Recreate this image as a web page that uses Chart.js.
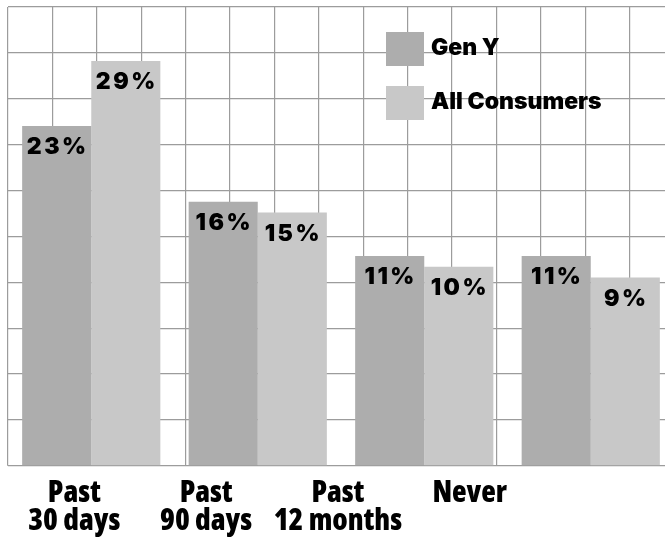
<!DOCTYPE html>
<html>
<head>
<meta charset="utf-8">
<script src="https://cdn.jsdelivr.net/npm/chart.js@4.4.1/dist/chart.umd.min.js"></script>
<style>
  html, body { margin: 0; padding: 0; overflow: hidden; background: #fff; }
  #wrap { position: relative; width: 680px; height: 549px; }
</style>
</head>
<body>
<div id="wrap"><canvas id="c"></canvas></div>
<script>
// Survey periods and the share of each group for each period (percent)
const CATEGORIES = [['Past', '30 days'], ['Past', '90 days'], ['Past', '12 months'], ['Never']];
const SERIES_NAMES = ['Gen Y', 'All Consumers'];
const GEN_Y = [23, 16, 11, 11];
const ALL_CONSUMERS = [29, 15, 10, 9];

const COLORS = ['#adadad', '#c8c8c8'];
const GRID = '#9c9c9c';
const Y_MIN = -8.4, Y_MAX = 34;
const HEAVY_FONT = "Inter, 'DejaVu Sans', sans-serif";

// Percent figures written just inside the top of each bar
const valueLabels = {
  id: 'valueLabels',
  afterDatasetsDraw(chart) {
    const ctx = chart.ctx;
    ctx.save();
    ctx.fillStyle = '#000';
    ctx.font = '900 23px ' + HEAVY_FONT;
    ctx.textAlign = 'center';
    ctx.textBaseline = 'alphabetic';
    if ('letterSpacing' in ctx) ctx.letterSpacing = '2.5px';
    chart.data.datasets.forEach((ds, i) => {
      chart.getDatasetMeta(i).data.forEach((bar, j) => {
        ctx.fillText(ds.data[j] + '%', bar.x + 1, bar.y + 28);
      });
    });
    ctx.restore();
  }
};

// Legend boxes sitting inside the plot, upper right
const boxLegend = {
  id: 'boxLegend',
  afterDraw(chart) {
    const ctx = chart.ctx;
    ctx.save();
    ctx.font = '900 23px ' + HEAVY_FONT;
    ctx.textBaseline = 'alphabetic';
    ctx.textAlign = 'left';
    chart.data.datasets.forEach((ds, i) => {
      const top = 32 + i * 54;
      ctx.fillStyle = ds.backgroundColor;
      ctx.fillRect(386, top, 38, 34);
      ctx.fillStyle = '#000';
      ctx.fillText(ds.label, 431, top + 23);
    });
    ctx.restore();
  }
};

new Chart(document.getElementById('c'), {
  type: 'bar',
  data: {
    labels: CATEGORIES.map(c => c.join(' ')),
    datasets: [
      { label: SERIES_NAMES[0], data: GEN_Y, backgroundColor: COLORS[0], base: Y_MIN },
      { label: SERIES_NAMES[1], data: ALL_CONSUMERS, backgroundColor: COLORS[1], base: Y_MIN }
    ]
  },
  options: {
    responsive: true,
    maintainAspectRatio: false,
    animation: false,
    layout: { padding: { left: 8, top: 7, right: 6, bottom: 0 } },
    datasets: { bar: { categoryPercentage: 0.83, barPercentage: 1.0 } },
    plugins: { legend: { display: false }, tooltip: { enabled: false } },
    scales: {
      x: { type: 'category', display: false, offset: true },
      // vertical grid rules
      xGrid: {
        type: 'linear', position: 'top', min: 0, max: 15, offset: false,
        ticks: { display: false, stepSize: 1 },
        grid: { color: GRID, lineWidth: 1.2, drawTicks: false, offset: false },
        border: { display: false }
      },
      // period names under the plot
      xLabels: {
        type: 'linear', position: 'bottom', min: -0.503, max: 4.55, offset: false,
        afterBuildTicks: s => { s.ticks = CATEGORIES.map((_, i) => ({ value: i })); },
        grid: { display: false, drawTicks: false, offset: false },
        border: { display: false },
        ticks: {
          autoSkip: false, maxRotation: 0, padding: 14,
          color: '#000',
          font: { family: "'Open Sans', sans-serif", weight: '800 condensed', size: 30, lineHeight: 0.92 },
          callback: v => CATEGORIES[v]
        }
      },
      y: {
        min: Y_MIN, max: Y_MAX,
        ticks: { display: false, stepSize: (Y_MAX - Y_MIN) / 10 },
        grid: { color: GRID, lineWidth: 1.2, drawTicks: false },
        border: { display: false }
      }
    }
  },
  plugins: [valueLabels, boxLegend]
});
</script>
</body>
</html>
